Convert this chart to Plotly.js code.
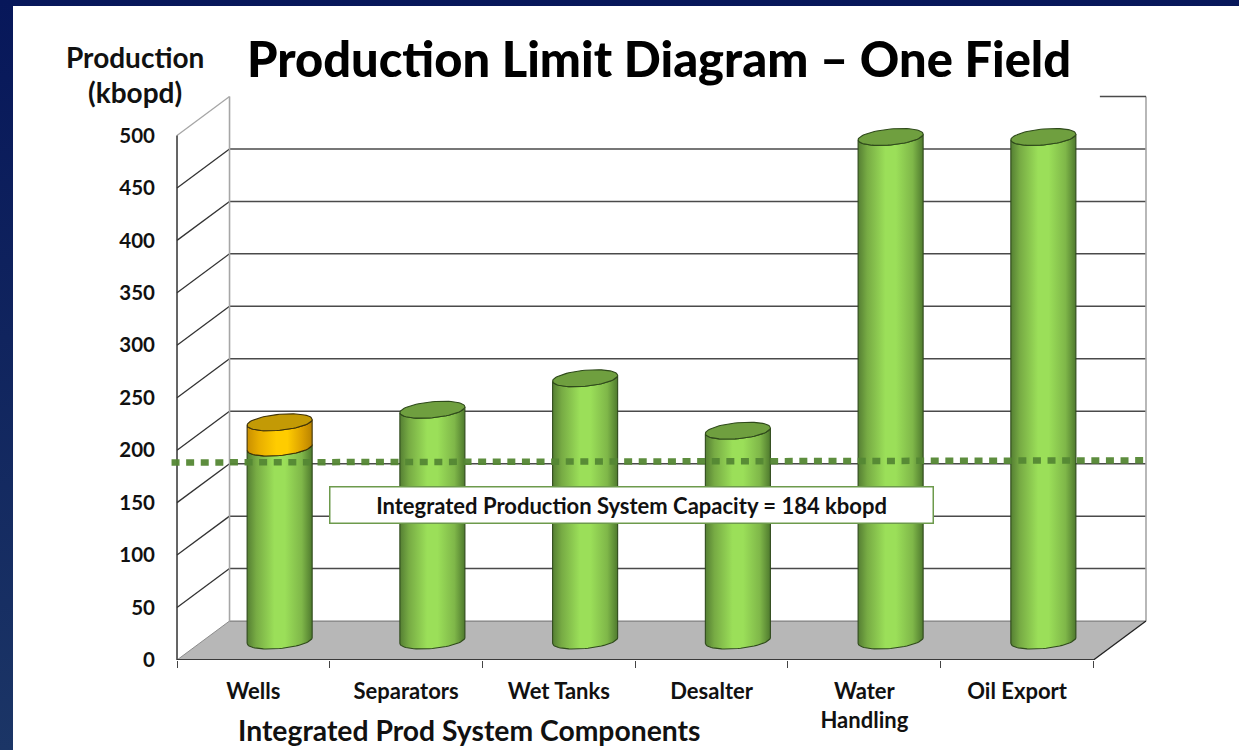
<!DOCTYPE html>
<html>
<head>
<meta charset="utf-8">
<script src="https://cdn.plot.ly/plotly-3.0.1.min.js"></script>
<style>
  html, body { margin: 0; padding: 0; width: 1239px; height: 750px; overflow: hidden; }
  body { background: linear-gradient(180deg, #07175a 0%, #10245e 45%, #1b3566 100%); position: relative; }
  #sheet { position: absolute; left: 13px; top: 6px; right: 0; bottom: 0; background: #fff; }
  #chart { position: absolute; left: 0; top: 0; width: 1239px; height: 750px; }
</style>
</head>
<body>
<div id="sheet"></div>
<div id="chart"></div>
<script>
// Chart content
const categories = ['Wells', 'Separators', 'Wet Tanks', 'Desalter', 'Water<br>Handling', 'Oil Export'];
const baseCapacity = [184, 220, 250, 200, 480, 480];
const excessCapacity = [24, 0, 0, 0, 0, 0];
const systemCapacity = 184;
const yTicks = [0, 50, 100, 150, 200, 250, 300, 350, 400, 450, 500];
const gridLevels = [50, 100, 150, 200, 250, 300, 350, 400, 450];

// Pseudo-3D box geometry: the axes measure the front plane, depth 0..1 reaches the back wall
const PX_PER_CAT = 152.67, PX_PER_UNIT = 1.05;
const DEPTH_X = 52.5 / PX_PER_CAT, DEPTH_Y = 39 / PX_PER_UNIT;
const project = (x, v, d) => [x + d * DEPTH_X, v + d * DEPTH_Y];
const XMIN = -0.5, XMAX = 5.5, VMAX = 500;

// Plot area in page pixels, with a little slack around the box for overhanging marks
const W = 1239, H = 750;
const PLOT = { l: 165, r: 1156, t: 86.5, b: 660 };
const paperX = px => (px - PLOT.l) / (PLOT.r - PLOT.l);
const paperY = py => (PLOT.b - py) / (PLOT.b - PLOT.t);
const xRange = [XMIN - 12 / PX_PER_CAT, XMAX + DEPTH_X + 10 / PX_PER_CAT];
const yRange = [0, (PLOT.b - PLOT.t) / PX_PER_UNIT];

const traces = [];
const poly = (pts, opts) => traces.push(Object.assign({
  x: pts.map(p => p[0]), y: pts.map(p => p[1]), type: 'scatter', mode: 'lines',
  hoverinfo: 'skip', showlegend: false, cliponaxis: false
}, opts));
const seg = (a, b, color, width) => poly([a, b], { line: { color, width } });

// Floor
poly([project(XMIN, 0, 0), project(XMAX, 0, 0), project(XMAX, 0, 1), project(XMIN, 0, 1), project(XMIN, 0, 0)],
  { fill: 'toself', fillcolor: '#b7b7b7', line: { color: '#b7b7b7', width: 0 } });

// Back wall and side wall rules
gridLevels.forEach(v => {
  seg(project(XMIN, v, 1), project(XMAX, v, 1), '#4a4a4a', 1.5);
  seg(project(XMIN, v, 0), project(XMIN, v, 1), '#333333', 1.3);
});
seg(project(XMIN, 0, 1), project(XMAX, 0, 1), '#808080', 1.3);
seg(project(XMIN, VMAX, 0), project(XMIN, VMAX, 1), '#a6a6a6', 1.3);
seg(project(XMIN, 0, 0), project(XMIN, 0, 1), '#8c8c8c', 1);
seg(project(XMIN, 0, 1), project(XMIN, VMAX, 1), '#a6a6a6', 1.6);
seg(project(XMAX, 0, 1), project(XMAX, VMAX, 1), '#a6a6a6', 1.6);
seg(project(XMAX - 0.302, VMAX, 1), project(XMAX, VMAX, 1), '#4a4a4a', 1.5);
seg(project(XMAX, 0, 0), project(XMAX, 0, 1), '#222222', 1.3);
seg(project(XMIN, 0, 0), project(XMAX, 0, 0), '#111111', 1.6);
seg(project(XMIN, 0, 0), project(XMIN, VMAX, 0), '#333333', 1.5);

// Cylinders: rims are sheared so they rise to the right
const RX_PX = 32.5, RY_PX = 8.0, RISE_PX = 2.9;
const rim = (i, v, from, to, n) => {
  const c = project(i, v, 0.5), pts = [];
  for (let k = 0; k <= n; k++) {
    const t = from + (to - from) * k / n;
    pts.push([c[0] + RX_PX * Math.cos(t) / PX_PER_CAT,
              c[1] + (RY_PX * Math.sin(t) + RISE_PX * Math.cos(t)) / PX_PER_UNIT]);
  }
  return pts;
};
const EDGE = '#2f4a1b';
const greenSide = [[0, '#557f33'], [0.14, '#77ab44'], [0.42, '#9bdf59'], [0.58, '#9bdf59'], [0.84, '#7fb749'], [1, '#4f7a2e']];
const amberSide = [[0, '#c98f00'], [0.18, '#e8ae00'], [0.45, '#ffcc00'], [0.62, '#ffcc00'], [0.85, '#dba000'], [1, '#b98300']];

function cylinder(i, low, high, side, capColor, edge, capped) {
  // lower rim runs left to right under the body, upper rim returns right to left
  const lower = rim(i, low, Math.PI, 2 * Math.PI, 36);
  const upper = rim(i, high, 2 * Math.PI, Math.PI, 36);
  const outline = lower.concat(upper, [lower[0]]);
  poly(outline, {
    fill: 'toself', fillcolor: side[2][1],
    fillgradient: { type: 'horizontal', colorscale: side },
    line: { color: edge, width: 1.1 }
  });
  if (capped) {
    const cap = rim(i, high, 0, 2 * Math.PI, 72);
    poly(cap, { fill: 'toself', fillcolor: capColor, line: { color: edge, width: 1.1 } });
  }
}
categories.forEach((_, i) => {
  const extra = excessCapacity[i];
  cylinder(i, 0, baseCapacity[i], greenSide, '#6f9f3f', EDGE, extra === 0);
  if (extra > 0) {
    cylinder(i, baseCapacity[i], baseCapacity[i] + extra, amberSide, '#c39a05', '#3f3208', true);
  }
});

// System capacity line, set slightly in from the front plane
const lineLeft = project(XMIN - 11.5 / PX_PER_CAT, systemCapacity, 0.115);
const lineRight = project(XMAX + DEPTH_X, systemCapacity, 0.17);
poly([lineLeft, [lineRight[0] - 0.17 * DEPTH_X, lineRight[1]]], {
  line: { color: 'rgba(84,135,52,0.95)', width: 6.5, dash: '8px,6.6px' }
});

const FONT = 'Lato, "Noto Sans", sans-serif';
const layout = {
  width: W, height: H,
  margin: { l: PLOT.l, r: W - PLOT.r, t: PLOT.t, b: H - PLOT.b, pad: 0 },
  paper_bgcolor: 'rgba(0,0,0,0)', plot_bgcolor: 'rgba(0,0,0,0)',
  showlegend: false,
  font: { family: FONT, color: '#111111' },
  title: {
    text: 'Production Limit Diagram – One Field',
    font: { family: FONT, size: 48.8, weight: 900, color: '#000000' },
    xref: 'container', yref: 'container', x: 659 / W, xanchor: 'center', y: 1 - 60 / H, yanchor: 'middle'
  },
  xaxis: {
    range: xRange, fixedrange: true, showgrid: false, zeroline: false, showline: false,
    tickmode: 'array', tickvals: categories.map((_, i) => i), ticktext: categories.map(c => '<b>' + c + '</b>'),
    ticks: '', tickfont: { family: FONT, size: 22, color: '#111111' }, ticklabelstandoff: 16,
    minor: {
      tickmode: 'array', tickvals: [-0.5, 0.5, 1.5, 2.5, 3.5, 4.5, 5.5],
      ticks: 'outside', ticklen: 7, tickcolor: '#444444', tickwidth: 1, showgrid: false
    }
  },
  yaxis: {
    range: yRange, fixedrange: true, showgrid: false, zeroline: false, showline: false,
    tickmode: 'array', tickvals: yTicks, ticktext: yTicks.map(v => '<b>' + v + '</b>'),
    ticks: '', tickfont: { family: FONT, size: 20.5, color: '#111111' }, ticklabelstandoff: 9
  },
  annotations: [
    { text: '<b>Production</b>', xref: 'paper', yref: 'paper', x: paperX(135), y: paperY(56), xanchor: 'center', yanchor: 'middle',
      showarrow: false, font: { family: FONT, size: 28, color: '#111111' } },
    { text: '<b>(kbopd)</b>', xref: 'paper', yref: 'paper', x: paperX(135), y: paperY(92), xanchor: 'center', yanchor: 'middle',
      showarrow: false, font: { family: FONT, size: 28, color: '#111111' } },
    { text: '<b>Integrated Prod System Components</b>', xref: 'paper', yref: 'paper', x: paperX(469), y: paperY(730), xanchor: 'center', yanchor: 'middle',
      showarrow: false, font: { family: FONT, size: 28.3, color: '#111111' } },
    { text: '<b>Integrated Production System Capacity = ' + systemCapacity + ' kbopd</b>', xref: 'paper', yref: 'paper',
      x: paperX(631.5), y: paperY(505), xanchor: 'center', yanchor: 'middle', width: 602, height: 35, align: 'center', valign: 'middle',
      showarrow: false, bgcolor: '#ffffff', bordercolor: '#6d9a4c', borderwidth: 1.5, borderpad: 0,
      font: { family: FONT, size: 22, color: '#111111' } }
  ]
};
Plotly.newPlot('chart', traces, layout, { staticPlot: true, displayModeBar: false });
</script>
</body>
</html>
